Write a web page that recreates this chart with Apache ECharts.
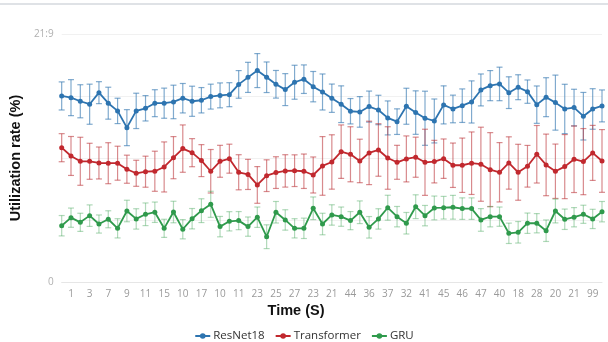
<!DOCTYPE html>
<html>
<head>
<meta charset="utf-8">
<script src="https://cdn.jsdelivr.net/npm/echarts@6/dist/echarts.min.js"></script>
<style>html,body{margin:0;padding:0;background:#fff}#c{width:608px;height:342px}</style>
</head>
<body>
<div id="c"></div>
<script>
const tickLabels = ['1','3','7','9','11','15','10','17','10','11','23','25','27','23','21','44','36','37','32','41','45','46','47','40','18','28','20','21','99'];
const seriesNames = ['ResNet18', 'Transformer', 'GRU'];

const resnet = [16.43,16.28,15.96,15.70,16.72,15.79,15.11,13.63,15.11,15.34,15.79,15.79,15.90,16.23,15.96,16.05,16.37,16.48,16.54,17.45,18.07,
  18.67,18.08,17.46,16.99,17.64,17.91,17.25,16.78,16.23,15.70,15.08,15.02,15.49,15.19,14.49,14.16,15.52,
  14.96,14.46,14.22,15.64,15.28,15.57,15.90,16.96,17.34,17.49,16.72,17.20,16.81,15.66,16.32,15.84,15.28,15.40,14.64,15.28,15.55];
const resnetErr = [1.24,1.59,1.46,1.77,0.97,1.41,1.12,1.59,1.56,1.12,1.19,1.33,1.48,1.30,1.33,1.12,1.10,1.10,1.06,1.22,1.33,
  1.50,1.35,1.22,1.41,1.50,1.26,1.34,1.59,1.25,1.62,1.12,1.35,1.37,1.30,1.50,1.13,1.59,
  1.92,2.39,1.94,1.68,1.22,1.48,1.86,1.41,1.33,1.48,1.40,1.10,1.03,1.65,1.72,2.43,2.18,1.62,2.10,1.79,1.41];

const transformer = [11.86,11.13,10.66,10.66,10.51,10.49,10.49,9.96,9.60,9.74,9.78,10.16,10.98,11.78,11.42,10.72,9.78,10.66,10.89,9.69,9.50,
  8.57,9.39,9.66,9.81,9.83,9.78,9.45,10.25,10.60,11.51,11.28,10.69,11.40,11.66,10.95,10.57,10.87,
  11.02,10.57,10.63,10.89,10.31,10.31,10.49,10.40,9.92,9.69,10.51,9.69,10.22,11.28,10.34,9.78,10.19,10.84,10.63,11.40,10.69];
const transformerErr = [1.24,1.72,2.12,1.59,1.41,1.81,1.50,1.24,1.15,1.37,1.77,2.21,1.86,2.09,1.24,1.41,1.92,1.41,1.28,1.55,1.33,
  1.62,1.40,1.40,1.43,1.40,1.52,1.59,2.59,2.40,2.36,2.43,1.92,2.80,2.32,2.76,1.50,2.03,
  1.77,2.92,1.88,1.74,1.96,2.40,2.76,3.27,3.27,2.62,2.31,2.47,1.84,2.54,2.72,2.40,2.83,2.94,2.92,2.43,2.77];

const gru = [4.97,5.68,5.27,5.86,5.12,5.54,4.74,6.27,5.57,5.98,6.16,4.74,6.18,4.66,5.59,6.30,6.86,4.89,5.36,5.42,4.89,
  5.72,4.00,6.16,5.48,4.74,4.74,6.51,5.12,5.92,5.77,5.42,6.16,4.83,5.57,6.56,5.77,5.19,
  6.65,5.86,6.54,6.56,6.60,6.48,6.48,5.48,5.77,5.77,4.30,4.39,5.19,5.19,4.53,6.27,5.54,5.72,5.98,5.57,6.21];
const gruErr = [0.90,0.85,0.80,0.95,0.80,0.75,0.85,0.95,0.90,1.00,0.90,0.80,0.95,0.85,0.90,1.05,1.15,0.90,0.85,0.80,0.85,
  0.90,1.05,0.95,0.90,0.85,0.90,1.00,0.95,0.90,0.85,0.80,1.00,0.95,0.90,1.10,0.90,0.95,
  1.05,0.90,1.05,1.00,1.05,0.95,0.95,1.00,0.90,0.85,0.90,0.95,0.90,0.85,0.95,1.05,0.90,0.85,0.80,0.85,0.90];

const categories = [];
for (let i = 0; i < resnet.length; i++) {
  categories.push(i % 2 === 1 ? tickLabels[(i - 1) / 2] : '');
}

const colors = ['#2d74b0', '#c1282e', '#2f9a4c'];
const barColors = ['rgba(60,125,180,0.65)', 'rgba(190,60,65,0.6)', 'rgba(80,170,100,0.45)'];

function errSeries(vals, errs, ci) {
  const data = vals.map((v, i) => [i, v - errs[i], v + errs[i]]);
  return {
    type: 'custom',
    silent: true,
    clip: false,
    z: 1,
    renderItem: function (params, api) {
      const x = api.value(0);
      const lo = api.coord([x, api.value(1)]);
      const hi = api.coord([x, api.value(2)]);
      const hw = 3;
      const style = { stroke: barColors[ci], lineWidth: 1.2 };
      return {
        type: 'group',
        children: [
          { type: 'line', shape: { x1: lo[0], y1: lo[1], x2: hi[0], y2: hi[1] }, style: style },
          { type: 'line', shape: { x1: lo[0] - hw, y1: lo[1], x2: lo[0] + hw, y2: lo[1] }, style: style },
          { type: 'line', shape: { x1: hi[0] - hw, y1: hi[1], x2: hi[0] + hw, y2: hi[1] }, style: style }
        ]
      };
    },
    encode: { x: 0, y: [1, 2] },
    data: data
  };
}

function lineSeries(name, vals, ci) {
  return {
    name: name,
    type: 'line',
    data: vals,
    symbol: 'circle',
    symbolSize: 5,
    z: 3,
    lineStyle: { color: colors[ci], width: 1.8 },
    itemStyle: { color: colors[ci] }
  };
}

const chart = echarts.init(document.getElementById('c'), null, { renderer: 'canvas' });
chart.setOption({
  animation: false,
  backgroundColor: '#ffffff',
  textStyle: { fontFamily: 'Open Sans, Liberation Sans, sans-serif' },
  grid: { left: 35, right: 6, top: 34, bottom: 60, containLabel: false },
  legend: {
    data: seriesNames,
    top: 325,
    left: 'center',
    itemWidth: 15,
    itemHeight: 7,
    itemGap: 10,
    textStyle: { fontSize: 11.5, color: '#333', fontFamily: 'Open Sans, sans-serif', padding: [0, 0, 0, -2] }
  },
  graphic: [
    { type: 'line', shape: { x1: 0, y1: 4, x2: 608, y2: 4 }, style: { stroke: '#d5d8de', lineWidth: 1.5 } },
    { type: 'text', x: 296, y: 303, style: { text: 'Time (S)', font: 'bold 14.5px Liberation Sans, Arial, sans-serif', fill: '#111', textAlign: 'center' } }
  ],
  xAxis: {
    type: 'category',
    data: categories,
    boundaryGap: false,
    axisLine: { lineStyle: { color: '#e6e6e6' } },
    axisTick: { show: false },
    axisLabel: {
      interval: function (i) { return i % 2 === 1; },
      color: '#9a9a9a',
      fontSize: 10,
      margin: 7
    },
    splitLine: { show: false }
  },
  yAxis: {
    type: 'value',
    min: 0,
    max: 21.9,
    interval: 5.475,
    name: 'Utilization rate (%)',
    nameLocation: 'middle',
    nameGap: 18,
    nameTextStyle: { fontSize: 14.5, fontWeight: 'bold', color: '#111', fontFamily: 'Liberation Sans, Arial, sans-serif' },
    axisLine: { show: false },
    axisTick: { show: false },
    axisLabel: {
      color: '#b0b0b0',
      fontSize: 10,
      margin: 8,
      formatter: function (v) {
        if (v === 0) return '0';
        if (v > 21) return '21:9';
        return '';
      }
    },
    splitLine: { lineStyle: { color: '#f1f1f1' } }
  },
  series: [
    errSeries(resnet, resnetErr, 0),
    errSeries(transformer, transformerErr, 1),
    errSeries(gru, gruErr, 2),
    lineSeries(seriesNames[0], resnet, 0),
    lineSeries(seriesNames[1], transformer, 1),
    lineSeries(seriesNames[2], gru, 2)
  ]
});
</script>
</body>
</html>
